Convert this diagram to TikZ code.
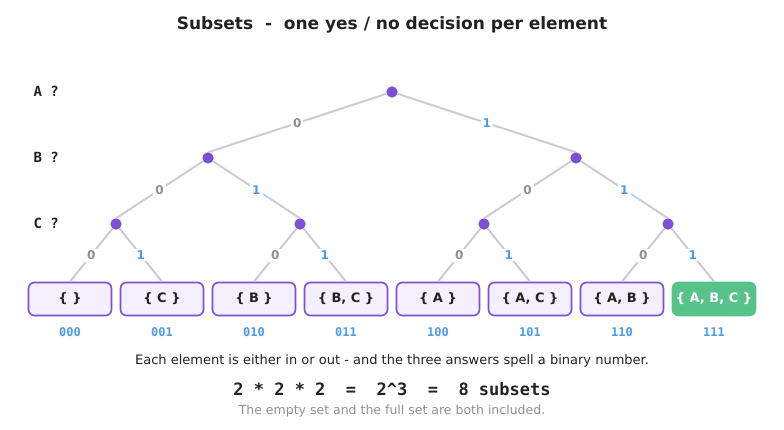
\documentclass[tikz,border=0pt]{standalone}
\usepackage{fontspec}
\setmainfont{DejaVu Sans}
\setmonofont{DejaVu Sans Mono}
\newcommand{\fs}[1]{\fontsize{#1}{#1}\selectfont}
\begin{document}
\begin{tikzpicture}[x=1pt,y=-1pt]
\definecolor{dotc}{HTML}{7B4FD6}
\definecolor{grn}{HTML}{57C38A}
\definecolor{blu}{HTML}{4A9BE8}
\definecolor{lfill}{HTML}{F4F0FE}
\definecolor{ink}{HTML}{222222}
\definecolor{gry}{HTML}{8A8F99}
\definecolor{egc}{HTML}{CACDD6}
\tikzset{
 dot/.style={circle,fill=dotc,draw=none,minimum size=11pt,inner sep=0pt},
 edge/.style={draw=egc,line width=2pt},
 lab0/.style={fill=white,inner sep=2pt,text=gry,font=\bfseries\fs{12}},
 lab1/.style={fill=white,inner sep=2pt,text=blu,font=\bfseries\fs{12}},
 leaf/.style={draw=dotc,fill=lfill,line width=1.6pt,rounded corners=6pt,minimum width=83pt,minimum height=33pt,font=\bfseries\fs{13},text=ink},
 code/.style={text=blu,font=\ttfamily\bfseries\fs{12}},
 lvl/.style={font=\ttfamily\bfseries\fs{14},text=ink,anchor=west}}
\useasboundingbox (0,0) rectangle (784,430);
\node[font=\bfseries\fs{17},text=ink] (title) at (392,25) {Subsets \ - \ one yes / no decision per element};
\node[lvl] (la) at (30,91) {A ?};
\node[lvl] (lb) at (30,157) {B ?};
\node[lvl] (lc) at (30,223) {C ?};
\node[dot] (r) at (392,92) {};
\node[dot] (n0) at (208,158) {};
\node[dot] (n1) at (576,158) {};
\node[dot] (n00) at (116,224) {};
\node[dot] (n01) at (300,224) {};
\node[dot] (n10) at (484,224) {};
\node[dot] (n11) at (668,224) {};
\foreach \i/\t/\c in {0/{\{ \}}/000,1/{\{ C \}}/001,2/{\{ B \}}/010,3/{\{ B, C \}}/011,4/{\{ A \}}/100,5/{\{ A, C \}}/101,6/{\{ A, B \}}/110}{
  \node[leaf] (L\c) at (70+92*\i,299) {\t};
  \node[code] (C\c) at (70+92*\i,332) {\c};
}
\node[leaf,fill=grn,draw=grn,text=white] (L111) at (714,299) {\{ A, B, C \}};
\node[code] (C111) at (714,332) {111};
\foreach \p/\a/\b in {r/n0/n1,n0/n00/n01,n1/n10/n11,n00/L000/L001,n01/L010/L011,n10/L100/L101,n11/L110/L111}{
  \path[edge] (\p) -- node[lab0]{0} (\a.north);
  \path[edge] (\p) -- node[lab1]{1} (\b.north);
}
\foreach \n in {r,n0,n1,n00,n01,n10,n11} \node[dot] at (\n) {};
\node[font=\fs{13},text=ink] (t1) at (392,361) {Each element is either in or out - and the three answers spell a binary number.};
\node[font=\ttfamily\bfseries\fs{17},text=ink] (t2) at (392,389) {2 * 2 * 2 \ = \ 2\textasciicircum3 \ = \ 8 subsets};
\node[font=\fs{12.5},text=gry] (t3) at (392,411) {The empty set and the full set are both included.};
\end{tikzpicture}
\end{document}
